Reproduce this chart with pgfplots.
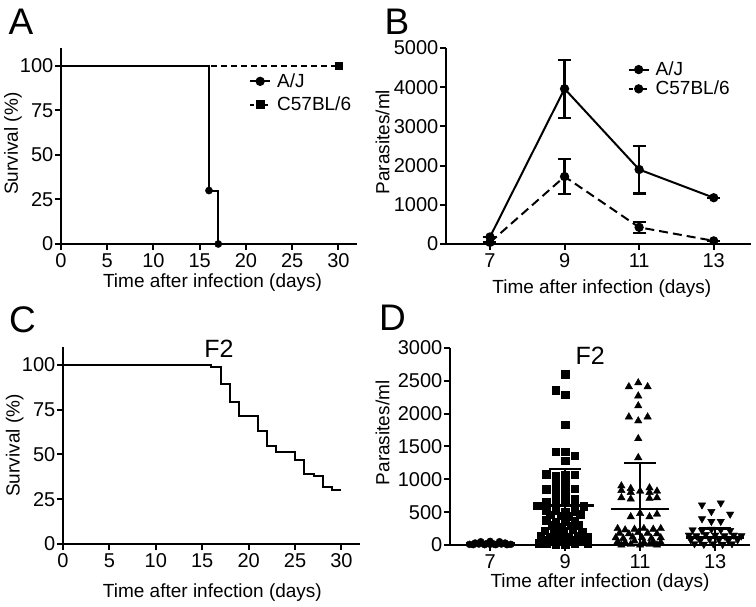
\documentclass[border=0pt]{standalone}
\usepackage{fontspec}
\setmainfont{Liberation Sans}
\usepackage{pgfplots}
\pgfplotsset{compat=1.18}
\newcommand{\tickfont}{\fontsize{20}{22}\selectfont}
\newcommand{\labfont}{\fontsize{19}{22}\selectfont}
\pgfplotsset{
 prism/.style={
  scale only axis, axis lines*=left, tick align=outside, major tick length=6pt,
  axis line style={-, line width=2pt}, every tick/.style={line width=2pt, black},
  tick label style={font=\tickfont}, label style={font=\labfont},
  yticklabel style={inner xsep=1.5pt},
  /pgf/number format/assume math mode=true, /pgf/number format/1000 sep={},
  scaled ticks=false, clip=false, legend cell align=left,
  legend style={draw=none, fill=none, font=\labfont, inner sep=0pt, row sep=4pt,
   /tikz/every odd column/.append style={column sep=4pt}},
  legend image code/.code={\draw[mark repeat=2,mark phase=2] plot coordinates {(0pt,0pt)(10pt,0pt)(20pt,0pt)};},
 },
}
\pgfplotstableread{
x y
6.45 10
6.6 30
6.75 50
6.9 20
7.0 55
7.1 15
7.25 50
7.4 30
7.55 10
6.55 5
6.85 5
7.15 5
7.45 5
7.0 10
6.7 15
7.3 15
}\dayseven
\pgfplotstableread{
x y
9.0 2600
8.75 2360
9.0 2290
9.0 1830
8.75 1420
9.0 1420
9.25 1360
9.0 1280
8.5 1080
8.75 1050
9.0 1060
9.25 1070
8.75 920
9.0 950
8.5 850
8.75 840
9.0 830
9.25 860
8.75 750
9.0 720
9.25 700
8.5 650
8.75 630
9.0 640
9.25 610
8.25 600
9.5 590
8.5 530
8.75 520
9.0 500
9.25 510
8.6 460
8.9 450
9.1 440
9.4 470
8.5 380
8.75 350
9.0 360
9.25 370
8.65 300
8.9 280
9.15 290
9.35 300
8.45 220
8.7 200
8.95 210
9.2 230
9.45 200
8.35 140
8.6 130
8.85 150
9.1 120
9.35 140
9.6 130
8.4 70
8.65 80
8.9 60
9.15 70
9.4 80
8.5 20
8.75 10
9.0 0
9.25 20
8.3 30
9.6 30
}\daynine
\pgfplotstableread{
x y
10.7 2410
10.95 2470
11.2 2410
10.95 2270
10.95 2120
10.7 1950
10.95 1890
11.2 1950
10.95 1620
10.95 1330
10.5 900
10.75 860
11.25 870
10.5 830
10.75 800
11.0 820
11.25 800
11.45 820
10.5 720
10.75 700
11.25 710
11.45 720
10.75 430
11.0 480
11.25 430
11.45 470
10.4 250
10.6 230
10.85 240
11.1 250
11.35 240
11.55 250
10.45 180
10.7 170
10.95 190
11.2 180
11.45 170
10.35 110
10.55 100
10.8 120
11.05 110
11.3 100
11.55 110
10.4 50
10.6 40
10.85 60
11.1 40
11.35 50
11.55 40
10.5 0
10.75 10
11.0 0
11.25 10
11.45 0
}\dayeleven
\pgfplotstableread{
x y
12.65 610
13.15 640
12.9 510
13.4 470
12.65 400
12.9 360
13.15 360
12.4 230
12.65 220
12.9 240
13.15 230
13.4 220
12.3 150
12.5 140
12.75 160
13.0 150
13.25 140
13.5 150
13.7 140
12.35 80
12.6 70
12.85 90
13.1 80
13.35 70
13.6 80
12.45 20
12.7 10
12.95 20
13.2 10
13.45 20
}\daythirteen
\begin{document}
\begin{tikzpicture}
\path[use as bounding box] (0pt,0pt) rectangle (756pt,607pt);
% panel letters
\node[font=\fontsize{37}{40}\selectfont] at (21pt,585.5pt) {A};
\node[font=\fontsize{37}{40}\selectfont] at (397pt,585pt) {B};
\node[font=\fontsize{37}{40}\selectfont] at (22.5pt,287.5pt) {C};
\node[font=\fontsize{37}{40}\selectfont] at (392.5pt,289.5pt) {D};

% ---------- A ----------
\begin{axis}[prism, at={(61pt,363pt)}, anchor=south west, width=296pt, height=196pt,
 xmin=0, xmax=32, ymin=0, ymax=110, xtick={0,5,...,30}, ytick={0,25,50,75,100},
 xlabel={Time after infection (days)}, ylabel={Survival (\%)},
 xlabel style={at={(axis description cs:0.512,-0.199)}, anchor=center},
 ylabel style={at={(axis description cs:-0.162,0.512)}, anchor=center},
 legend style={at={(axis description cs:0.635,0.88)}, anchor=north west}]
\addplot[black, line width=2pt, dash pattern=on 6pt off 4pt, forget plot] coordinates {(0,100)(30,100)};
\addplot[black, line width=2pt, forget plot] coordinates {(0,100)(16,100)(16,30)(17,30)(17,0)};
\addplot[black, only marks, mark=*, mark size=3.6pt, forget plot] coordinates {(16,30)(17,0)};
\addplot[black, only marks, mark=square*, mark size=3.6pt, forget plot] coordinates {(30,100)};
\addlegendimage{black, line width=2pt, mark=*, mark size=3.6pt}
\addlegendentry{A/J}
\addlegendimage{black, line width=2pt, dash pattern=on 4pt off 3pt, mark=square*, mark size=3.6pt, mark options={solid}}
\addlegendentry{C57BL/6}
\end{axis}

% ---------- B ----------
\begin{axis}[prism, at={(446pt,363pt)}, anchor=south west, width=305pt, height=196pt,
 xmin=5.82, xmax=14, ymin=0, ymax=5000, xtick={7,9,11,13}, ytick={0,1000,...,5000},
 xlabel={Time after infection (days)}, ylabel={Parasites/ml},
 xlabel style={at={(axis description cs:0.511,-0.23)}, anchor=center},
 ylabel style={at={(axis description cs:-0.208,0.52)}, anchor=center},
 legend style={at={(axis description cs:0.595,0.94)}, anchor=north west, row sep=0pt}]
\addplot[black, line width=2pt, mark=*, mark size=3.6pt, forget plot,
 error bars/.cd, y dir=both, y explicit, error bar style={line width=2.2pt},
 error mark options={rotate=90, line width=2.2pt, mark size=6.5pt}]
 coordinates {(7,180) +- (0,0) (9,3960) +- (0,740) (11,1900) +- (0,610) (13,1180) +- (0,0)};
\addplot[black, line width=2pt, dash pattern=on 9pt off 5pt, mark=*, mark size=3.6pt, mark options={solid}, forget plot,
 error bars/.cd, y dir=both, y explicit, error bar style={line width=2.2pt, solid},
 error mark options={rotate=90, line width=2.2pt, mark size=6.5pt, solid}]
 coordinates {(7,40) +- (0,0) (9,1720) +- (0,440) (11,425) +- (0,145) (13,80) +- (0,0)};
\addlegendimage{black, line width=2pt, mark=*, mark size=3.6pt}
\addlegendentry{A/J}
\addlegendimage{black, line width=2pt, dash pattern=on 4pt off 3pt, mark=*, mark size=3.6pt, mark options={solid}}
\addlegendentry{C57BL/6}
\end{axis}

% ---------- C ----------
\begin{axis}[prism, at={(63pt,63pt)}, anchor=south west, width=297pt, height=197pt,
 xmin=0, xmax=32, ymin=0, ymax=110, xtick={0,5,...,30}, ytick={0,25,50,75,100},
 xlabel={Time after infection (days)}, ylabel={Survival (\%)},
 xlabel style={at={(axis description cs:0.503,-0.249)}, anchor=center},
 ylabel style={at={(axis description cs:-0.163,0.5)}, anchor=center}]
\addplot[black, line width=2pt] coordinates {(0,100)(16,100)(16,98.8)(17,98.8)(17,89.5)(18,89.5)(18,79.3)(19,79.3)(19,71.6)(21,71.6)(21,63)(22,63)(22,54.5)(23,54.5)(23,51.2)(25,51.2)(25,46.8)(26,46.8)(26,39.3)(27,39.3)(27,37.8)(28,37.8)(28,31.7)(29,31.7)(29,30.3)(30,30.3)};
\node[font=\fontsize{25}{28}\selectfont] at (axis description cs:0.525,0.99) {F2};
\end{axis}

% ---------- D ----------
\begin{axis}[prism, at={(450pt,62pt)}, anchor=south west, width=300pt, height=197pt,
 xmin=5.93, xmax=13.93, ymin=0, ymax=3000, xtick={7,9,11,13}, ytick={0,500,...,3000},
 xlabel={Time after infection (days)}, ylabel={Parasites/ml},
 xlabel style={at={(axis description cs:0.5,-0.193)}, anchor=center},
 ylabel style={at={(axis description cs:-0.225,0.569)}, anchor=center}]
\addplot[black, only marks, mark=*, mark size=3.5pt] table {\dayseven};
\addplot[black, only marks, mark=square*, mark size=3.7pt] table {\daynine};
\addplot[black, only marks, mark=triangle*, mark size=4.3pt] table {\dayeleven};
\addplot[black, only marks, mark=triangle*, mark size=4.3pt, mark options={rotate=180}] table {\daythirteen};
% means
\addplot[black, line width=2.4pt] coordinates {(6.35,22)(7.65,22)};
\addplot[black, line width=2.4pt] coordinates {(8.22,600)(9.78,600)};
\addplot[black, line width=2.4pt] coordinates {(10.22,550)(11.78,550)};
\addplot[black, line width=2.4pt] coordinates {(12.22,112)(13.78,112)};
% SD bars
\addplot[black, line width=2.4pt] coordinates {(7,0)(7,40)};
\addplot[black, line width=2.4pt] coordinates {(6.7,40)(7.3,40)};
\addplot[black, line width=2.4pt] coordinates {(9,0)(9,1160)};
\addplot[black, line width=2.4pt] coordinates {(8.57,1160)(9.43,1160)};
\addplot[black, line width=2.4pt] coordinates {(11,0)(11,1245)};
\addplot[black, line width=2.4pt] coordinates {(10.57,1245)(11.43,1245)};
\addplot[black, line width=2.4pt] coordinates {(13,0)(13,250)};
\addplot[black, line width=2.4pt] coordinates {(12.57,250)(13.43,250)};
\node[font=\fontsize{25}{28}\selectfont] at (axis description cs:0.467,0.96) {F2};
\end{axis}
\end{tikzpicture}
\end{document}
